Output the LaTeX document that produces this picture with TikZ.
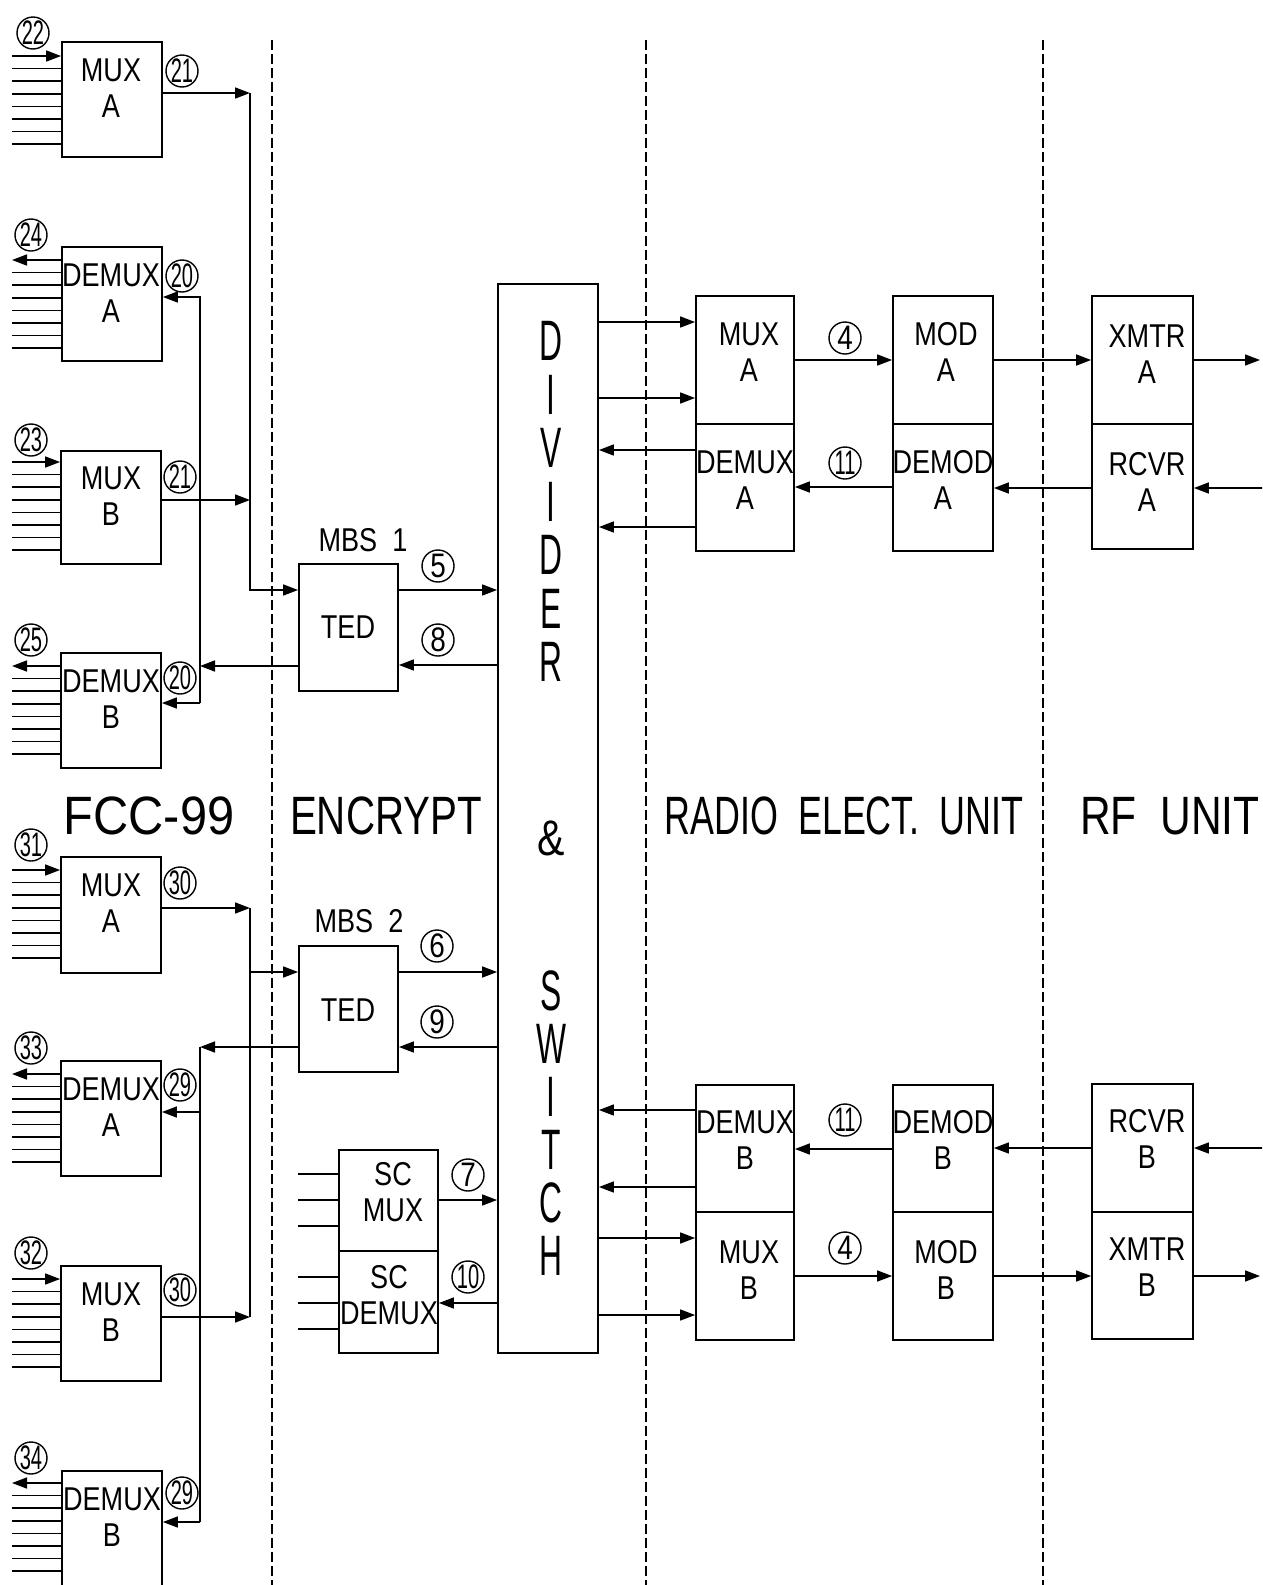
\documentclass[tikz,border=0pt]{standalone}
\usepackage{fontspec}
\usepackage{graphicx}
\setmainfont{Liberation Sans}[FakeStretch=0.82]
\usetikzlibrary{arrows.meta}
\newcommand{\cnd}[1]{\scalebox{0.72}[1]{#1}}
\newcommand{\dvl}[1]{\scalebox{0.68}[1]{#1}}
\newcommand{\hsc}[2]{\scalebox{#1}[1]{#2}}
\begin{document}
\begin{tikzpicture}[x=1pt,y=-1pt,
 blk/.style={draw, line width=1.8pt, inner sep=0pt},
 ln/.style={line width=1.6pt},
 arr/.style={line width=1.6pt, -{Triangle[length=15pt,width=11pt]}},
 dl/.style={line width=1.4pt, dash pattern=on 10pt off 4pt},
 tx/.style={font=\fontsize{33}{36}\selectfont, align=center, inner sep=0pt},
 big/.style={font=\fontsize{54}{60}\selectfont, inner sep=0pt, anchor=base},
 dv/.style={font=\fontsize{57}{60}\selectfont, inner sep=0pt},
 cn/.style={circle, draw, line width=1.4pt, inner sep=-3pt, minimum size=32pt, font=\fontsize{34}{34}\selectfont},
]
\useasboundingbox (0,0) rectangle (1262,1585);
\fill[white] (0,0) rectangle (1262,1585);
\clip (0,0) rectangle (1262,1585);

% dashed separators
\draw[dl] (272,40) -- (272,1590);
\draw[dl] (646,40) -- (646,1590);
\draw[dl] (1043,40) -- (1043,1590);

% ---------- left boxes (FCC-99) ----------
\node[blk, minimum width=100pt, minimum height=115pt] (fma) at (112,99.5) {};
\node[blk, minimum width=100pt, minimum height=114pt] (fda) at (112,304) {};
\node[blk, minimum width=100pt, minimum height=113pt] (fmb) at (111,507.5) {};
\node[blk, minimum width=100pt, minimum height=115pt] (fdb) at (111,710.5) {};
\node[blk, minimum width=100pt, minimum height=116pt] (fma2) at (111,915) {};
\node[blk, minimum width=100pt, minimum height=115pt] (fda2) at (111,1118.5) {};
\node[blk, minimum width=100pt, minimum height=115pt] (fmb2) at (111,1323.5) {};
\node[blk, minimum width=100pt, minimum height=138pt] (fdb2) at (112,1540) {};

\node[tx] (tfma) at (111,88) {MUX\\A};
\node[tx] (tfda) at (111,293) {DEMUX\\A};
\node[tx] (tfmb) at (111,496) {MUX\\B};
\node[tx] (tfdb) at (111,699) {DEMUX\\B};
\node[tx] (tfma2) at (111,903) {MUX\\A};
\node[tx] (tfda2) at (111,1107) {DEMUX\\A};
\node[tx] (tfmb2) at (111,1312) {MUX\\B};
\node[tx] (tfdb2) at (112,1517) {DEMUX\\B};

% input / output bundles
\foreach \b/\t in {fma/56, fmb/462, fma2/870, fmb2/1279} {
  \draw[arr] (12,\t) -- (\b.west |- 0,\t);
  \foreach \k in {1,...,7} \draw[ln] (12,{\t+12.6*\k}) -- (\b.west |- 0,{\t+12.6*\k});
}
\foreach \b/\t in {fda/260, fdb/666, fda2/1074, fdb2/1483} {
  \draw[arr] (\b.west |- 0,\t) -- (12,\t);
  \foreach \k in {1,...,7} \draw[ln] (12,{\t+12.6*\k}) -- (\b.west |- 0,{\t+12.6*\k});
}

% circled numbers left
\node[cn] (n22) at (33,33) {\cnd{22}};
\node[cn] (n21a) at (182,71) {\cnd{21}};
\node[cn] (n24) at (31,235) {\cnd{24}};
\node[cn] (n20a) at (182,276) {\cnd{20}};
\node[cn] (n23) at (31,440) {\cnd{23}};
\node[cn] (n21b) at (180,477) {\cnd{21}};
\node[cn] (n25) at (31,640) {\cnd{25}};
\node[cn] (n20b) at (180,678) {\cnd{20}};
\node[cn] (n31) at (31,845) {\cnd{31}};
\node[cn] (n30a) at (180,883) {\cnd{30}};
\node[cn] (n33) at (31,1048) {\cnd{33}};
\node[cn] (n29a) at (180,1085) {\cnd{29}};
\node[cn] (n32) at (31,1253) {\cnd{32}};
\node[cn] (n30b) at (180,1290) {\cnd{30}};
\node[cn] (n34) at (31,1458) {\cnd{34}};
\node[cn] (n29b) at (182,1493) {\cnd{29}};

% ---------- encrypt ----------
\node[blk, minimum width=99pt, minimum height=127pt] (ted1) at (348.5,627.5) {};
\node[tx] (tted1) at (348,627) {TED};
\node[tx] (lmbs1) at (363,540) {MBS\ \ 1};
\node[blk, minimum width=99pt, minimum height=126pt] (ted2) at (348.5,1009) {};
\node[tx] (tted2) at (348,1010) {TED};
\node[tx] (lmbs2) at (359,921) {MBS\ \ 2};
\node[blk, minimum width=99pt, minimum height=101pt] (scm) at (388.5,1200.5) {};
\node[blk, minimum width=99pt, minimum height=102pt] (scd) at (388.5,1302) {};
\node[tx] (tscm) at (393,1192) {SC\\MUX};
\node[tx] (tscd) at (389,1295) {SC\\DEMUX};

\node[cn] (n5) at (438,566) {5};
\node[cn] (n8) at (438,640) {8};
\node[cn] (n6) at (437,946) {6};
\node[cn] (n9) at (437,1022) {9};
\node[cn] (n7) at (468,1175) {7};
\node[cn] (n10) at (468,1277) {\cnd{10}};

% ---------- divider & switch ----------
\node[blk, minimum width=100pt, minimum height=1069pt] (div) at (548,818.5) {};
\foreach \l/\y [count=\i] in {D/341, I/394.5, V/448, I/501.5, D/555, E/608.5, R/662, S/991, W/1044, I/1097, T/1150, C/1203, H/1256}
  \node[dv] (L\i) at (551,\y) {\dvl{\l}};
\node[dv, font=\fontsize{50}{50}\selectfont] (Lamp) at (551,838) {\&};

% ---------- radio elect. unit ----------
\node[blk, minimum width=98pt, minimum height=128pt] (rma) at (745,360) {};
\node[blk, minimum width=98pt, minimum height=127pt] (rda) at (745,487.5) {};
\node[blk, minimum width=100pt, minimum height=128pt] (moda) at (943,360) {};
\node[blk, minimum width=100pt, minimum height=127pt] (demoda) at (943,487.5) {};
\node[blk, minimum width=98pt, minimum height=127pt] (rdb) at (745,1148.5) {};
\node[blk, minimum width=98pt, minimum height=128pt] (rmb) at (745,1276) {};
\node[blk, minimum width=100pt, minimum height=127pt] (demodb) at (943,1148.5) {};
\node[blk, minimum width=100pt, minimum height=128pt] (modb) at (943,1276) {};

\node[tx] (trma) at (749,352) {MUX\\A};
\node[tx] (trda) at (745,480) {DEMUX\\A};
\node[tx] (tmoda) at (946,352) {MOD\\A};
\node[tx] (tdemoda) at (943,480) {DEMOD\\A};
\node[tx] (trdb) at (745,1140) {DEMUX\\B};
\node[tx] (trmb) at (749,1270) {MUX\\B};
\node[tx] (tdemodb) at (943,1140) {DEMOD\\B};
\node[tx] (tmodb) at (946,1270) {MOD\\B};

\node[cn] (n4a) at (845,338) {4};
\node[cn] (n11a) at (845,463) {\cnd{11}};
\node[cn] (n11b) at (845,1120) {\cnd{11}};
\node[cn] (n4b) at (845,1248) {4};

% ---------- rf unit ----------
\node[blk, minimum width=101pt, minimum height=128pt] (xma) at (1142.5,360) {};
\node[blk, minimum width=101pt, minimum height=125pt] (rca) at (1142.5,486.5) {};
\node[blk, minimum width=101pt, minimum height=128pt] (rcb) at (1142.5,1148) {};
\node[blk, minimum width=101pt, minimum height=127pt] (xmb) at (1142.5,1275.5) {};
\node[tx] (txma) at (1147,354) {XMTR\\A};
\node[tx] (trca) at (1147,482) {RCVR\\A};
\node[tx] (trcb) at (1147,1139) {RCVR\\B};
\node[tx] (txmb) at (1147,1267) {XMTR\\B};

% ---------- section labels ----------
\node[big] (lfcc) at (149,834) {\hsc{1.1}{FCC-99}};
\node[big] (lenc) at (386,834) {\hsc{0.91}{ENCRYPT}};
\node[big] (lrad) at (844,834) {\hsc{0.81}{RADIO\ \ ELECT.\ \ UNIT}};
\node[big] (lrf) at (1170,834) {\hsc{0.96}{RF\ \ UNIT}};

% ---------- connectors: upper left ----------
\coordinate (b1t) at (250,93);
\coordinate (b1m) at (250,500);
\coordinate (b1b) at (250,590);
\draw[arr] (fma.east |- b1t) -- (b1t);
\draw[arr] (fmb.east |- b1m) -- (b1m);
\draw[arr] (b1t) -- (b1b) -- (ted1.west |- b1b);
\coordinate (d1t) at (200,297);
\coordinate (d1m) at (200,666);
\coordinate (d1b) at (200,703);
\draw[arr] (ted1.west |- d1m) -- (d1m);
\draw[arr] (d1b) -- (d1t) -- (fda.east |- d1t);
\draw[arr] (d1b) -- (fdb.east |- d1b);
\draw[arr] (ted1.east |- 0,590) -- (div.west |- 0,590);
\draw[arr] (div.west |- 0,665) -- (ted1.east |- 0,665);

% ---------- connectors: lower left ----------
\coordinate (b2t) at (250,908);
\coordinate (b2m) at (250,972);
\coordinate (b2b) at (250,1317);
\draw[arr] (fma2.east |- b2t) -- (b2t);
\draw[arr] (fmb2.east |- b2b) -- (b2b);
\draw[ln] (b2t) -- (b2b);
\draw[arr] (b2m) -- (ted2.west |- b2m);
\coordinate (d2t) at (200,1047);
\coordinate (d2m) at (200,1112);
\coordinate (d2b) at (200,1522);
\draw[arr] (ted2.west |- d2t) -- (d2t);
\draw[ln] (d2t) -- (d2b);
\draw[arr] (d2m) -- (fda2.east |- d2m);
\draw[arr] (d2b) -- (fdb2.east |- d2b);
\draw[arr] (ted2.east |- 0,972) -- (div.west |- 0,972);
\draw[arr] (div.west |- 0,1047) -- (ted2.east |- 0,1047);

% SC mux / demux
\foreach \y in {1174,1200,1226} \draw[ln] (298,\y) -- (scm.west |- 0,\y);
\foreach \y in {1277,1303,1329} \draw[ln] (298,\y) -- (scd.west |- 0,\y);
\draw[arr] (scm.east |- 0,1200) -- (div.west |- 0,1200);
\draw[arr] (div.west |- 0,1303) -- (scd.east |- 0,1303);

% ---------- connectors: right upper ----------
\draw[arr] (div.east |- 0,322) -- (rma.west |- 0,322);
\draw[arr] (div.east |- 0,398) -- (rma.west |- 0,398);
\draw[arr] (rda.west |- 0,450) -- (div.east |- 0,450);
\draw[arr] (rda.west |- 0,527) -- (div.east |- 0,527);
\draw[arr] (rma.east |- 0,360) -- (moda.west |- 0,360);
\draw[arr] (demoda.west |- 0,487) -- (rda.east |- 0,487);
\draw[arr] (moda.east |- 0,360) -- (xma.west |- 0,360);
\draw[arr] (rca.west |- 0,488) -- (demoda.east |- 0,488);
\coordinate (outA) at (1260,360);
\coordinate (inA) at (1264,488);
\draw[arr] (xma.east |- outA) -- (outA);
\draw[arr] (inA) -- (rca.east |- inA);

% ---------- connectors: right lower ----------
\draw[arr] (rdb.west |- 0,1110) -- (div.east |- 0,1110);
\draw[arr] (rdb.west |- 0,1187) -- (div.east |- 0,1187);
\draw[arr] (div.east |- 0,1238) -- (rmb.west |- 0,1238);
\draw[arr] (div.east |- 0,1315) -- (rmb.west |- 0,1315);
\draw[arr] (demodb.west |- 0,1149) -- (rdb.east |- 0,1149);
\draw[arr] (rmb.east |- 0,1276) -- (modb.west |- 0,1276);
\draw[arr] (rcb.west |- 0,1148) -- (demodb.east |- 0,1148);
\draw[arr] (modb.east |- 0,1276) -- (xmb.west |- 0,1276);
\coordinate (outB) at (1260,1276);
\coordinate (inB) at (1264,1148);
\draw[arr] (xmb.east |- outB) -- (outB);
\draw[arr] (inB) -- (rcb.east |- inB);
\end{tikzpicture}
\end{document}
